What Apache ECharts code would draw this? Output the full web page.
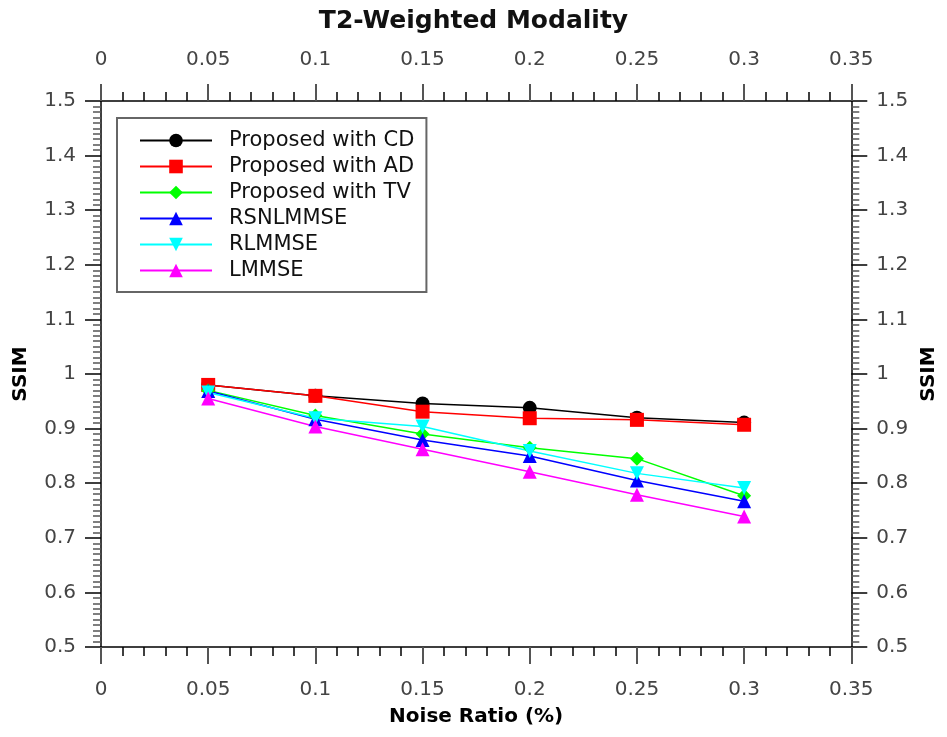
<!DOCTYPE html>
<html>
<head>
<meta charset="utf-8">
<script src="https://cdn.jsdelivr.net/npm/echarts@6/dist/echarts.min.js"></script>
<style>html,body{margin:0;padding:0;background:#fff;}#c{width:947px;height:737px;}</style>
</head>
<body>
<div id="c"></div>
<script>
const noiseRatio = [0.05, 0.1, 0.15, 0.2, 0.25, 0.3];
const proposedCD = [0.980, 0.960, 0.946, 0.938, 0.920, 0.911];
const proposedAD = [0.980, 0.960, 0.931, 0.919, 0.916, 0.907];
const proposedTV = [0.970, 0.924, 0.890, 0.865, 0.845, 0.777];
const rsnlmmse   = [0.969, 0.917, 0.879, 0.850, 0.805, 0.767];
const rlmmse     = [0.966, 0.919, 0.904, 0.859, 0.818, 0.791];
const lmmse      = [0.955, 0.904, 0.862, 0.821, 0.779, 0.739];
const seriesNames = ['Proposed with CD','Proposed with AD','Proposed with TV','RSNLMMSE','RLMMSE','LMMSE'];

const FONT = 'DejaVu Sans';
const chart = echarts.init(document.getElementById('c'));
const pairs = arr => noiseRatio.map((x, i) => [x, arr[i]]);
function mk(name, data, color, symbol, rotate) {
  return {
    name, type: 'line', data: pairs(data), xAxisIndex: 0, yAxisIndex: 0,
    symbol, symbolSize: 14, symbolRotate: rotate || 0,
    lineStyle: { color, width: 1.5 }, itemStyle: { color },
    animation: false
  };
}
const xCommon = {
  type: 'value', min: 0, max: 0.35, interval: 0.05,
  axisLine: { show: true, onZero: false, lineStyle: { color: '#000', width: 1.5 } },
  axisTick: { show: true, inside: false, length: 17, lineStyle: { color: '#555', width: 2 } },
  minorTick: { show: true, splitNumber: 5, length: 9, lineStyle: { color: '#000', width: 1.5 } },
  splitLine: { show: false },
  axisLabel: { color: '#444', fontFamily: FONT, fontSize: 20 }
};
const yCommon = {
  type: 'value', min: 0.5, max: 1.5, interval: 0.1,
  axisLine: { show: true, onZero: false, lineStyle: { color: '#000', width: 1.5 } },
  axisTick: { show: true, inside: false, length: 16, lineStyle: { color: '#000', width: 1.5 } },
  minorTick: { show: true, splitNumber: 10, length: 8, lineStyle: { color: '#555', width: 1.5 } },
  splitLine: { show: false },
  axisLabel: { color: '#444', fontFamily: FONT, fontSize: 20, margin: 25,
    formatter: v => String(Math.round(v * 10) / 10) },
  name: 'SSIM', nameLocation: 'middle', nameRotate: 90,
  nameTextStyle: { color: '#000', fontFamily: FONT, fontSize: 20, fontWeight: 'bold' }
};
chart.setOption({
  backgroundColor: '#fff',
  animation: false,
  title: {
    text: 'T2-Weighted Modality', left: 'center', top: 4,
    textStyle: { color: '#111', fontFamily: FONT, fontSize: 25, fontWeight: 'bold' }
  },
  grid: { left: 101, right: 92, top: 101, bottom: 90 },
  legend: {
    left: 117, top: 118, orient: 'vertical',
    data: seriesNames,
    borderColor: '#666', borderWidth: 2, backgroundColor: '#fff',
    padding: [12, 12, 11, 22],
    itemWidth: 72, itemHeight: 17, itemGap: 5,
    textStyle: { color: '#111', fontFamily: FONT, fontSize: 21, padding: [0, 0, 0, 12], lineHeight: 20 }
  },
  xAxis: [
    Object.assign({}, xCommon, { position: 'bottom',
      axisLabel: Object.assign({}, xCommon.axisLabel, { margin: 33 }),
      name: 'Noise Ratio (%)', nameLocation: 'middle', nameGap: 60,
      nameTextStyle: { color: '#000', fontFamily: FONT, fontSize: 20, fontWeight: 'bold' } }),
    Object.assign({}, xCommon, { position: 'top',
      axisLabel: Object.assign({}, xCommon.axisLabel, { margin: 31 }) })
  ],
  yAxis: [
    Object.assign({}, yCommon, { position: 'left', nameGap: 70 }),
    Object.assign({}, yCommon, { position: 'right', nameGap: 65 })
  ],
  series: [
    mk(seriesNames[0], proposedCD, '#000000', 'circle'),
    mk(seriesNames[1], proposedAD, '#ff0000', 'rect'),
    mk(seriesNames[2], proposedTV, '#00ff00', 'diamond'),
    mk(seriesNames[3], rsnlmmse, '#0000ff', 'triangle'),
    mk(seriesNames[4], rlmmse, '#00ffff', 'triangle', 180),
    mk(seriesNames[5], lmmse, '#ff00ff', 'triangle')
  ]
});
</script>
</body>
</html>
